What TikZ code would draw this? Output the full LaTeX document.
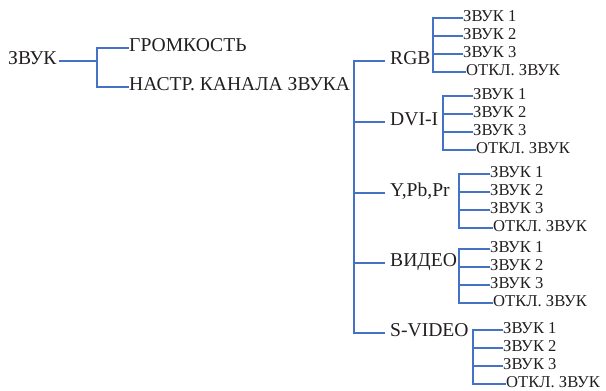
\documentclass[tikz,border=0pt]{standalone}
\usepackage{fontspec}
\setmainfont{Liberation Serif}
\usepackage{xcolor}
\usepackage{tikz}
\usetikzlibrary{positioning, calc}
\definecolor{menublue}{RGB}{68, 114, 196}
\definecolor{menutext}{RGB}{35, 31, 32}

\begin{document}
\begin{tikzpicture}[x=1pt, y=-1pt,
    branch/.style={menublue, line width=2.4pt},
    item/.style={anchor=west, inner sep=0pt, text height=0.66em, text depth=0pt,
        text=menutext, font=\fontsize{19.6}{21}\selectfont},
    leaf/.style={item, font=\fontsize{16.6}{18}\selectfont}]
    \useasboundingbox (0,0) rectangle (606,391);

    % first level
    \node[item] (snd) at (8,61) {ЗВУК};
    \node[item] (vol) at (129,48) {ГРОМКОСТЬ};
    \node[item] (chn) at (129,87) {НАСТР. КАНАЛА ЗВУКА};
    \coordinate (ssnd) at (97,61);
    \draw[branch] (snd.east) ++(2,0) -- (ssnd);
    \draw[branch] (vol.west) -| (ssnd) |- (chn.west);

    % sources
    \coordinate (schn) at (354,61);
    \foreach \name/\txt/\y in {rgb/RGB/61, dvi/DVI-I/122, ypb/{Y,Pb,Pr}/193, vid/ВИДЕО/263, svd/S-VIDEO/333} {
        \node[item, inner xsep=5pt] (\name) at (385,\y) {\txt};
    }
    \draw[branch] (rgb.west) -| (schn) |- (svd.west);
    \foreach \name in {dvi, ypb, vid} {
        \draw[branch] (schn |- \name.west) -- (\name.west);
    }

    % sound tracks of each source
    \foreach \grp/\sx/\ty/\tx in {rgb/433/18/463, dvi/443/96/473, ypb/459/174/490, vid/459/249/490, svd/473/330/503} {
        \coordinate (s\grp) at (\sx,\ty);
        \foreach \k/\dx/\dy/\lbl in {1/0/0/ЗВУК 1, 2/0/18/ЗВУК 2, 3/0/36/ЗВУК 3, 4/3/54/ОТКЛ. ЗВУК} {
            \node[leaf] (\grp\k) at (\tx+\dx,\ty+\dy) {\lbl};
        }
        \draw[branch] (\grp1.west) -| (s\grp) |- (\grp4.west);
        \draw[branch] (s\grp |- \grp2.west) -- (\grp2.west);
        \draw[branch] (s\grp |- \grp3.west) -- (\grp3.west);
    }
\end{tikzpicture}
\end{document}
